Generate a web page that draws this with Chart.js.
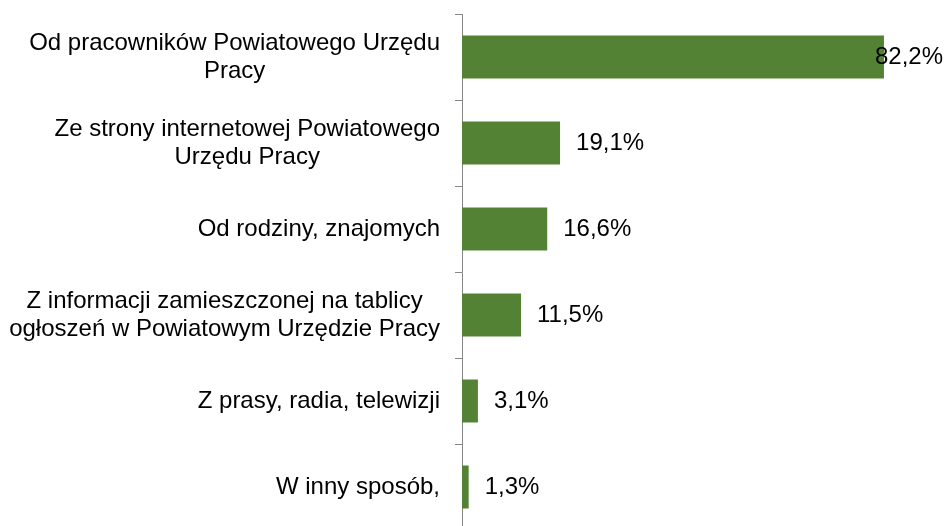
<!DOCTYPE html>
<html>
<head>
<meta charset="utf-8">
<script src="https://cdn.jsdelivr.net/npm/chart.js@4"></script>
<style>
  html, body { margin: 0; padding: 0; background: #fff; overflow: hidden; }
  #wrap { width: 949px; height: 530px; }
</style>
</head>
<body>
<div id="wrap"><canvas id="sourcesChart" width="949" height="530"></canvas></div>
<script>
// Categories (multi-line labels) and values
const categories = [
  ["Od pracowników Powiatowego Urzędu", "Pracy"],
  ["Ze strony internetowej Powiatowego", "Urzędu Pracy"],
  ["Od rodziny, znajomych"],
  ["Z informacji zamieszczonej na tablicy", "ogłoszeń w Powiatowym Urzędzie Pracy"],
  ["Z prasy, radia, telewizji"],
  ["W inny sposób,"]
]
const values = [82.2, 19.1, 16.6, 11.5, 3.1, 1.3]
const valueLabels = ["82,2%", "19,1%", "16,6%", "11,5%", "3,1%", "1,3%"]

const FONT = "'Liberation Sans', Arial, sans-serif"
const FONT_SIZE = 24
const LINE_H = 28
const AXIS_GRAY = "#868686"

// draws category labels (lines centred inside a right-aligned block) and value labels
const labelPlugin = {
  id: "labels",
  afterDraw(chart) {
    const c = chart.ctx
    const yScale = chart.scales.y
    c.save()
    c.font = FONT_SIZE + "px " + FONT
    c.fillStyle = "#000"
    c.textBaseline = "middle"

    const rightEdge = yScale.right - 22
    categories.forEach((lines, i) => {
      const yc = yScale.getPixelForValue(i)
      const widest = Math.max(...lines.map(l => c.measureText(l).width))
      const xc = rightEdge - widest / 2
      c.textAlign = "center"
      lines.forEach((line, j) => {
        c.fillText(line, xc, yc + (j - (lines.length - 1) / 2) * LINE_H)
      })
    })

    const meta = chart.getDatasetMeta(0)
    c.textAlign = "left"
    meta.data.forEach((bar, i) => {
      const txt = valueLabels[i]
      const w = c.measureText(txt).width
      let x = bar.x + 16
      if (x + w > chart.width - 6) x = chart.width - 6 - w
      c.fillText(txt, x, bar.y)
    })
    c.restore()
  }
}

document.addEventListener("DOMContentLoaded", () => {
  const ctx = document.getElementById("sourcesChart")
  new Chart(ctx, {
    type: "bar",
    data: {
      labels: categories,
      datasets: [
        {
          data: values,
          backgroundColor: "#548235",
          borderWidth: 0,
          barPercentage: 0.5,
          categoryPercentage: 1.0,
        },
      ],
    },
    options: {
      indexAxis: "y",
      responsive: false,
      animation: false,
      devicePixelRatio: 1,
      layout: {
        padding: { top: 14, right: 25, bottom: 0, left: 0 },
      },
      plugins: {
        legend: { display: false },
        tooltip: { enabled: false },
      },
      scales: {
        x: {
          display: false,
          min: 0,
          max: 90,
        },
        y: {
          afterFit(scale) {
            scale.width = 462
          },
          ticks: { display: false },
          grid: {
            display: true,
            offset: true,
            drawOnChartArea: false,
            drawTicks: true,
            tickLength: 7,
            color: AXIS_GRAY,
            lineWidth: 1,
          },
          border: { display: true, color: AXIS_GRAY, width: 1 },
        },
      },
    },
    plugins: [labelPlugin],
  })
})
</script>
</body>
</html>
